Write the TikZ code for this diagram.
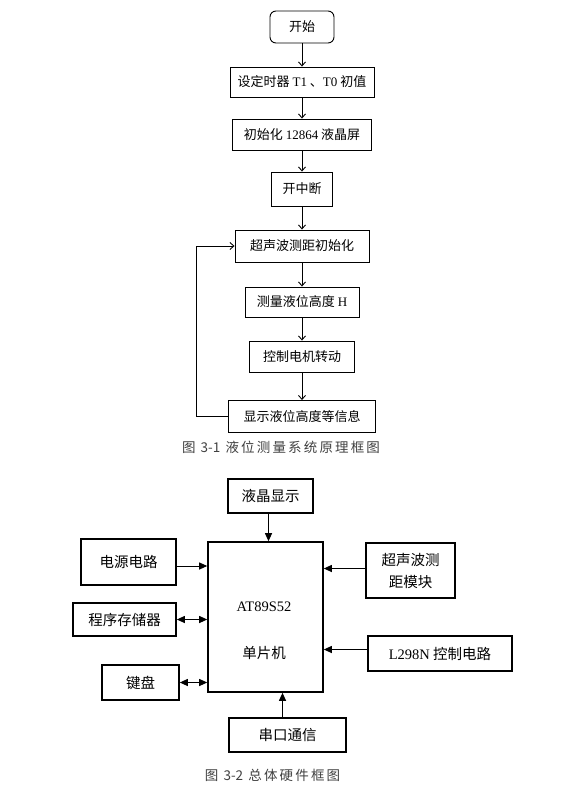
\documentclass[tikz,border=0pt]{standalone}
\usepackage{fontspec}
\setmainfont{Noto Sans CJK SC}
\newfontfamily\latin{Liberation Serif}
\newfontfamily\capfont[LetterSpace=16]{Noto Sans CJK SC}
\newcommand\capnum[1]{{\addfontfeature{LetterSpace=0}#1}}
\usetikzlibrary{positioning,arrows.meta}

\begin{document}
\begin{tikzpicture}[
    x=1pt, y=-1pt,
    flowbox/.style={draw, line width=0.9pt, inner sep=0pt, minimum height=31pt, font=\fontsize{13}{15}\selectfont},
    startbox/.style={flowbox, rounded corners=6pt},
    hwbox/.style={draw, line width=1.6pt, inner sep=0pt, align=center, font=\fontsize{14.5}{22}\selectfont},
    flowline/.style={line width=0.9pt, -{Straight Barb[length=4pt,width=7pt]}},
    hwline/.style={line width=1pt, -{Triangle[length=8pt,width=7pt]}},
    hwboth/.style={line width=1pt, {Triangle[length=8pt,width=7pt]}-{Triangle[length=8pt,width=7pt]}},
    caption/.style={text=black!75, font=\capfont\fontsize{13.5}{15}\selectfont}
]
\useasboundingbox (0,0) rectangle (581,802);

% Fig 3-1: flow chart
\node[startbox, minimum width=64pt, minimum height=32pt] (start) at (302,27) {开始};
\node[flowbox, minimum width=144pt, minimum height=30pt] (timer) at (302,82) {设定时器 {\latin T1} 、{\latin T0} 初值};
\node[flowbox, minimum width=139pt] (lcdinit) at (302,134.5) {初始化 {\latin 12864} 液晶屏};
\node[flowbox, minimum width=61pt, minimum height=34pt] (intr) at (302,189) {开中断};
\node[flowbox, minimum width=134pt, minimum height=32pt] (usinit) at (302,246) {超声波测距初始化};
\node[flowbox, minimum width=114pt, minimum height=30pt] (measure) at (302,302) {测量液位高度 {\latin H}};
\node[flowbox, minimum width=105pt] (motor) at (302,356.5) {控制电机转动};
\node[flowbox, minimum width=147pt, minimum height=32pt] (show) at (302,416.5) {显示液位高度等信息};

\foreach \a/\b in {start/timer, timer/lcdinit, lcdinit/intr, intr/usinit, usinit/measure, measure/motor, motor/show}
  \draw[flowline] (\a.south) -- (\b.north);
\draw[flowline] (show.west) -- ++(-32,0) |- (usinit.west);

\node[caption] (cap1) at (281,447) {图 \capnum{3-1} 液位测量系统原理框图};

% Fig 3-2: hardware blocks
\node[hwbox, minimum width=85pt, minimum height=34pt] (lcd) at (270.5,496) {液晶显示};
\node[hwbox, minimum width=115pt, minimum height=150pt] (mcu) at (265.5,617) {};
\node[font=\latin\fontsize{14.5}{17}\selectfont] (mcuname) at (264,607) {AT89S52};
\node[font=\fontsize{14.5}{17}\selectfont] (mcutype) at (264,653) {单片机};
\node[hwbox, minimum width=95pt, minimum height=46pt] (power) at (128.5,562) {电源电路};
\node[hwbox, minimum width=103pt, minimum height=33pt] (rom) at (124.5,619.5) {程序存储器};
\node[hwbox, minimum width=77pt, minimum height=35pt] (keys) at (140.5,682.5) {键盘};
\node[hwbox, minimum width=89pt, minimum height=55pt] (usmod) at (410.5,570.5) {超声波测\\距模块};
\node[hwbox, minimum width=144pt, minimum height=35pt] (drv) at (440,653.5) {{\latin L298N} 控制电路};
\node[hwbox, minimum width=117pt, minimum height=34pt] (serial) at (287.5,735) {串口通信};

\draw[hwline] ([xshift=-2pt]lcd.south) -- ([xshift=-2pt]lcd.south |- mcu.north);
\draw[hwline] ([yshift=-4pt]power.east) -- ([yshift=-4pt]power.east -| mcu.west);
\draw[hwboth] (rom.east) -- (rom.east -| mcu.west);
\draw[hwboth] (keys.east) -- (keys.east -| mcu.west);
\draw[hwline] ([yshift=2pt]usmod.west) -- ([yshift=2pt]usmod.west -| mcu.east);
\draw[hwline] ([yshift=4pt]drv.west) -- ([yshift=4pt]drv.west -| mcu.east);
\draw[hwline] ([xshift=-5pt]serial.north) -- ([xshift=-5pt]serial.north |- mcu.south);

\node[caption] (cap2) at (272.5,775) {图 \capnum{3-2} 总体硬件框图};

\end{tikzpicture}
\end{document}
